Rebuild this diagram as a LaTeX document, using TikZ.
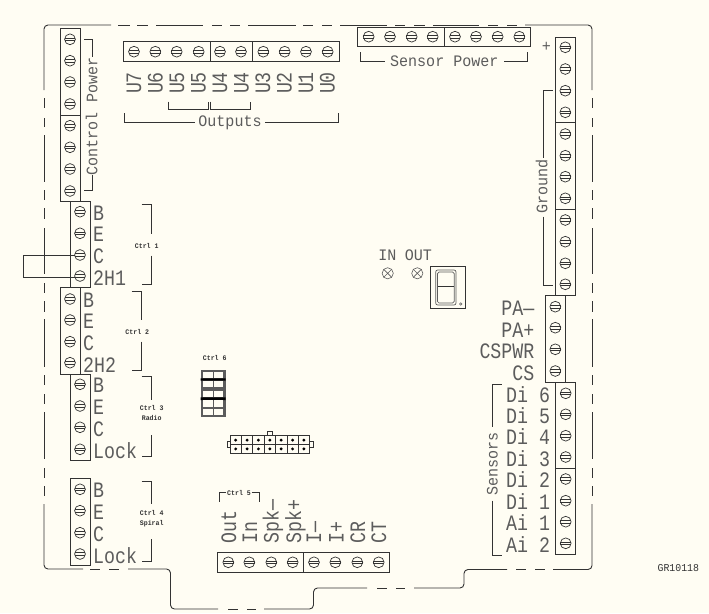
\documentclass[tikz,border=0pt]{standalone}
\usepackage{fontspec}
\newfontfamily\cadfont[FakeStretch=0.83]{Liberation Mono}
\newfontfamily\cadsmall[FakeStretch=0.94]{Liberation Mono}
\usepackage{tikz}
\usetikzlibrary{calc,positioning}
\definecolor{paper}{HTML}{FFFDF3}
\definecolor{ink}{HTML}{333333}
\definecolor{pen}{HTML}{5C5C5C}
\tikzset{
    board/.style={draw=ink, line width=0.9pt, rounded corners=4pt},
    block/.style={draw=ink, line width=0.8pt},
    bracket/.style={draw=ink, line width=0.7pt},
    biglabel/.style={inner sep=0pt, text=pen, font=\cadfont\fontsize{22}{22}\selectfont, text height=14pt, text depth=0pt},
    midlabel/.style={inner sep=0pt, text=pen, font=\cadsmall\fontsize{16}{16}\selectfont},
    ctrllabel/.style={inner sep=0pt, text=ink, align=center, font=\cadsmall\bfseries\fontsize{7}{10}\selectfont},
    screw/.pic={
        \draw[ink, line width=0.7pt, fill=paper] (0,0) circle (5.4pt);
        \draw[ink, line width=0.7pt] (-5.3,-1.2) -- (5.3,-1.2) (-5.3,1.2) -- (5.3,1.2);
    },
    led/.pic={
        \draw[pen, line width=0.6pt] (0,0) circle (5.6pt);
        \draw[pen, line width=0.6pt] (-4,-4) -- (4,4) (-4,4) -- (4,-4);
    }
}
\begin{document}
\begin{tikzpicture}[x=1pt, y=-1pt]
    \useasboundingbox (0,0) rectangle (709,613);
    \fill[paper] (0,0) rectangle (709,613);

    % board edge
    \draw[board] (44,90) -- (44,25) -- (111,25);
    \draw[board] (525,25) -- (592,25) -- (592,90);
    \draw[board] (592,504) -- (592,569.5) -- (553,569.5);
    \draw[board] (507,569.5) -- (464,569.5) -- (464,588) -- (414,588);
    \draw[board] (367,588) -- (313.5,588) -- (313.5,609) -- (264,609);
    \draw[board] (218,609) -- (170.5,609) -- (170.5,569) -- (128,569);
    \draw[board] (83,569) -- (44,569) -- (44,504);
    \foreach \a/\b in {118/130,137/148,156/203,212/222,230/240,248/296,303/313,322/332,340/387,395/405,414/425,433/479,488/498,507/517}
        \draw[ink, line width=0.9pt] (\a,25) -- (\b,25);
    \foreach \a/\b in {98/108,118/127,135/182,190/200,208/219,228/274,283/293,301/312,319/367,375/385,394/404,412/459,468/478,486/496}{
        \draw[ink, line width=0.9pt] (44,\a) -- (44,\b);
        \draw[ink, line width=0.9pt] (592,\a) -- (592,\b);
    }
    \foreach \a/\b in {516/526,535/545}
        \draw[ink, line width=0.9pt] (\a,569.5) -- (\b,569.5);
    \foreach \a/\b in {377/387,396/405}
        \draw[ink, line width=0.9pt] (\a,588) -- (\b,588);
    \foreach \a/\b in {228/238,247/256}
        \draw[ink, line width=0.9pt] (\a,609) -- (\b,609);
    \foreach \a/\b in {90/100,109/119}
        \draw[ink, line width=0.9pt] (\a,569) -- (\b,569);

    % terminal blocks
    \draw[block] (60,28) rectangle (80,115) (60,115) rectangle (80,201.5);
    \draw[block] (123.5,41.5) rectangle (210,61.5) (210,41.5) rectangle (252.5,61.5) (252.5,41.5) rectangle (339,61.5);
    \draw[block] (357.5,27.5) rectangle (444,46) (444,27.5) rectangle (530.5,46);
    \draw[block] (555.5,37.5) rectangle (575.5,122.5) (555.5,122.5) rectangle (575.5,209.5) (555.5,209.5) rectangle (575.5,295.5);
    \draw[block] (70,201.5) rectangle (90,287.5);
    \draw[block] (60,287.5) rectangle (80,374.5);
    \draw[block] (70,374.5) rectangle (90,460);
    \draw[block] (70,478.5) rectangle (90,565);
    \draw[block] (217.5,552) rectangle (303,572) (303,552) rectangle (389.5,572);
    \draw[block] (545.5,295.5) rectangle (565.5,382.5);
    \draw[block] (555.5,382.5) rectangle (575.5,468.5) (555.5,468.5) rectangle (575.5,554.5);

    % screws
    \foreach \yy in {39.3,60.7,82,104,125.7,147.3,169,191}
        \pic at (70,\yy) {screw};
    \foreach \xx in {134,155.3,176.7,198.7,220,241,263.3,284.7,306,327.7}
        \pic at (\xx,51.7) {screw};
    \foreach \xx in {368.7,390,411.7,432.7,455,476,497.7,519.3}
        \pic at (\xx,36.7) {screw};
    \foreach \yy in {47.3,69,90.7,112.3,134,155.7,176.7,198.3,220,241.7,263.3,284.3}
        \pic at (565.3,\yy) {screw};
    \foreach \yy in {211.7,233.3,255,276,384.3,406,427.3,449.3,489.3,510.7,532.7,554}
        \pic at (80,\yy) {screw};
    \foreach \yy in {299,320,341.7,362.7}
        \pic at (70,\yy) {screw};
    \foreach \xx in {228.3,249.3,271.3,292.7,314,335.3,357.3,378.7}
        \pic at (\xx,562.3) {screw};
    \foreach \yy in {306.7,327.7,349.3,371}
        \pic at (555.3,\yy) {screw};
    \foreach \yy in {393.3,414.3,435.7,457,479,500.7,521.7,543.3}
        \pic at (565.7,\yy) {screw};

    % jumper on ctrl 1
    \draw[draw=ink, line width=0.8pt] (75,255) -- (23.5,255) -- (23.5,277) -- (75,277);

    % left labels
    \foreach \lbl/\yy/\tag in {B/213/a,E/234.5/b,C/256/c,2H1/278/d}
        \node[biglabel, anchor=west] (ctrlone\tag) at (93,\yy) {\lbl};
    \foreach \lbl/\yy/\tag in {B/300/a,E/321.5/b,C/343/c,2H2/365/d}
        \node[biglabel, anchor=west] (ctrltwo\tag) at (83,\yy) {\lbl};
    \foreach \lbl/\yy/\tag in {B/385.5/a,E/407/b,C/429/c,Lock/451/d}
        \node[biglabel, anchor=west] (ctrlthree\tag) at (93,\yy) {\lbl};
    \foreach \lbl/\yy/\tag in {B/490.5/a,E/512/b,C/534/c,Lock/556/d}
        \node[biglabel, anchor=west] (ctrlfour\tag) at (93,\yy) {\lbl};

    \node[ctrllabel] (ctrlone) at (146.7,245.7) {Ctrl 1};
    \node[ctrllabel] (ctrltwo) at (137.3,331.7) {Ctrl 2};
    \node[ctrllabel] (ctrlthree) at (151.7,413) {Ctrl 3\\Radio};
    \node[ctrllabel] (ctrlfour) at (151.7,519) {Ctrl 4\\Spiral};
    \node[ctrllabel] (ctrlfive) at (239,493.3) {Ctrl 5};
    \node[ctrllabel] (ctrlsix) at (214.7,358.3) {Ctrl 6};

    \draw[bracket] (141.7,204.5) -- (151,204.5) -- (151,233.5) (151,255.5) -- (151,284.5) -- (141.7,284.5);
    \draw[bracket] (131.7,291) -- (141,291) -- (141,320) (141,341.7) -- (141,370.7) -- (131.7,370.7);
    \draw[bracket] (141.7,376.7) -- (151,376.7) -- (151,400) (151,435) -- (151,456.7) -- (141.7,456.7);
    \draw[bracket] (141.7,481) -- (151,481) -- (151,504) (151,539.3) -- (151,561.7) -- (141.7,561.7);
    \draw[bracket] (219.3,501.7) -- (219.3,492.3) -- (226,492.3) (251.7,492.3) -- (259.3,492.3) -- (259.3,501.7);

    % control power and outputs
    \draw[bracket] (84,39.3) -- (92.7,39.3) -- (92.7,56.7) (92.7,175) -- (92.7,190) -- (84,190);
    \node[midlabel, rotate=90] (ctrlpower) at (91.7,116.5) {Control Power};
    \foreach \lbl/\xx in {U7/134,U6/155.5,U5/177,U5/198.5,U4/220,U4/241.5,U3/263,U2/284.5,U1/306,U0/327.5}
        \node[biglabel, rotate=90] (out\xx) at (\xx,83) {\lbl};
    \draw[bracket] (168.3,101.7) -- (168.3,109.3) -- (208.3,109.3) -- (208.3,101.7);
    \draw[bracket] (210.7,101.7) -- (210.7,109.3) -- (250.7,109.3) -- (250.7,101.7);
    \draw[bracket] (124.3,113.3) -- (124.3,122.7) -- (195,122.7) (265,122.7) -- (338.3,122.7) -- (338.3,113.3);
    \node[midlabel] (outputs) at (230,122.5) {Outputs};

    % sensor power and ground
    \draw[bracket] (360.7,52.3) -- (360.7,61) -- (385,61) (504,61) -- (527.3,61) -- (527.3,52.3);
    \node[midlabel] (senspower) at (444.3,61.5) {Sensor Power};
    \node[midlabel] (plus) at (546.3,46.7) {+};
    \draw[bracket] (552.7,90.7) -- (543.3,90.7) -- (543.3,157.7) (543.3,216.7) -- (543.3,285) -- (552.7,285);
    \node[midlabel, rotate=90] (ground) at (541.7,186.7) {Ground};

    % leds and display
    \node[midlabel] (inled) at (387.3,255) {IN};
    \node[midlabel] (outled) at (418.3,255) {OUT};
    \pic at (387.7,273.3) {led};
    \pic at (417.3,273.3) {led};
    \draw[block] (430.7,266) rectangle (465,308.3);
    \draw[draw=pen, line width=0.7pt, rounded corners=2pt] (435.7,270) rectangle (456,305);
    \draw[draw=pen, line width=0.7pt, rounded corners=1.5pt] (437.5,272) rectangle (454.2,303);
    \draw[draw=ink, line width=0.8pt] (437.5,286.7) -- (454.2,286.7);
    \draw[draw=pen, line width=0.5pt] (460.7,304) circle (1.3pt);

    % right labels
    \node[biglabel, anchor=east] (paminus) at (534.5,308.5) {PA—};
    \node[biglabel, anchor=east] (paplus) at (534.5,330) {PA+};
    \node[biglabel, anchor=east] (cspwr) at (534.5,351.7) {CSPWR};
    \node[biglabel, anchor=east] (cs) at (534.5,373) {CS};
    \foreach \lbl/\yy/\tag in {Di 6/395/a,Di 5/416/b,Di 4/437/c,Di 3/459/d,Di 2/480.5/e,Di 1/502/f,Ai 1/523.5/g,Ai 2/545/h}
        \node[biglabel, anchor=west] (sens\tag) at (506,\yy) {\lbl};
    \draw[bracket] (501.7,384.3) -- (492.7,384.3) -- (492.7,426.7) (492.7,500.7) -- (492.7,555) -- (501.7,555);
    \node[midlabel, rotate=90] (sensors) at (492.3,464) {Sensors};

    % bottom labels
    \foreach \lbl/\xx/\tag in {Out/229/a,In/250/b,Spk—/271.7/c,Spk+/294/d,I—/314/e,I+/336.5/f,CR/358/g,CT/379/h}
        \node[biglabel, anchor=west, rotate=90] (ctrlfive\tag) at (\xx,544) {\lbl};

    % ctrl 6 header
    \fill[pen] (200.7,370) rectangle (225.7,417.3);
    \fill[black] (200.7,378.3) rectangle (225.7,380.7) (200.7,397.3) rectangle (225.7,400);
    \foreach \ya/\yb in {372.3/378.3,380.7/387.3,391/397.3,400/406.7,409.3/415.3}{
        \fill[paper] (203.3,\ya) rectangle (212.7,\yb);
        \fill[paper] (214,\ya) rectangle (223.3,\yb);
    }

    % 14 pin connector
    \draw[block, fill=paper] (267.3,431) rectangle (272.7,435.7);
    \draw[block, fill=paper] (227,441.7) rectangle (230,447.7);
    \draw[block, fill=paper] (309.6,441.7) rectangle (313,447.7);
    \draw[block, fill=paper] (230,435.7) rectangle (309.6,453.3);
    \draw[draw=ink, line width=0.7pt] (230,444.5) -- (309.6,444.5);
    \foreach \i in {1,...,6}
        \draw[draw=ink, line width=0.7pt] ({230+11.37*\i},435.7) -- ({230+11.37*\i},453.3);
    \foreach \i in {0,...,6}{
        \fill[black] ({235.7+11.37*\i},440.1) circle (1.6pt);
        \fill[black] ({235.7+11.37*\i},448.9) circle (1.6pt);
    }

    \node[inner sep=0pt, text=ink, font=\cadsmall\fontsize{10.5}{10}\selectfont] (drawingno) at (678.3,567.7) {GR10118};
\end{tikzpicture}
\end{document}
